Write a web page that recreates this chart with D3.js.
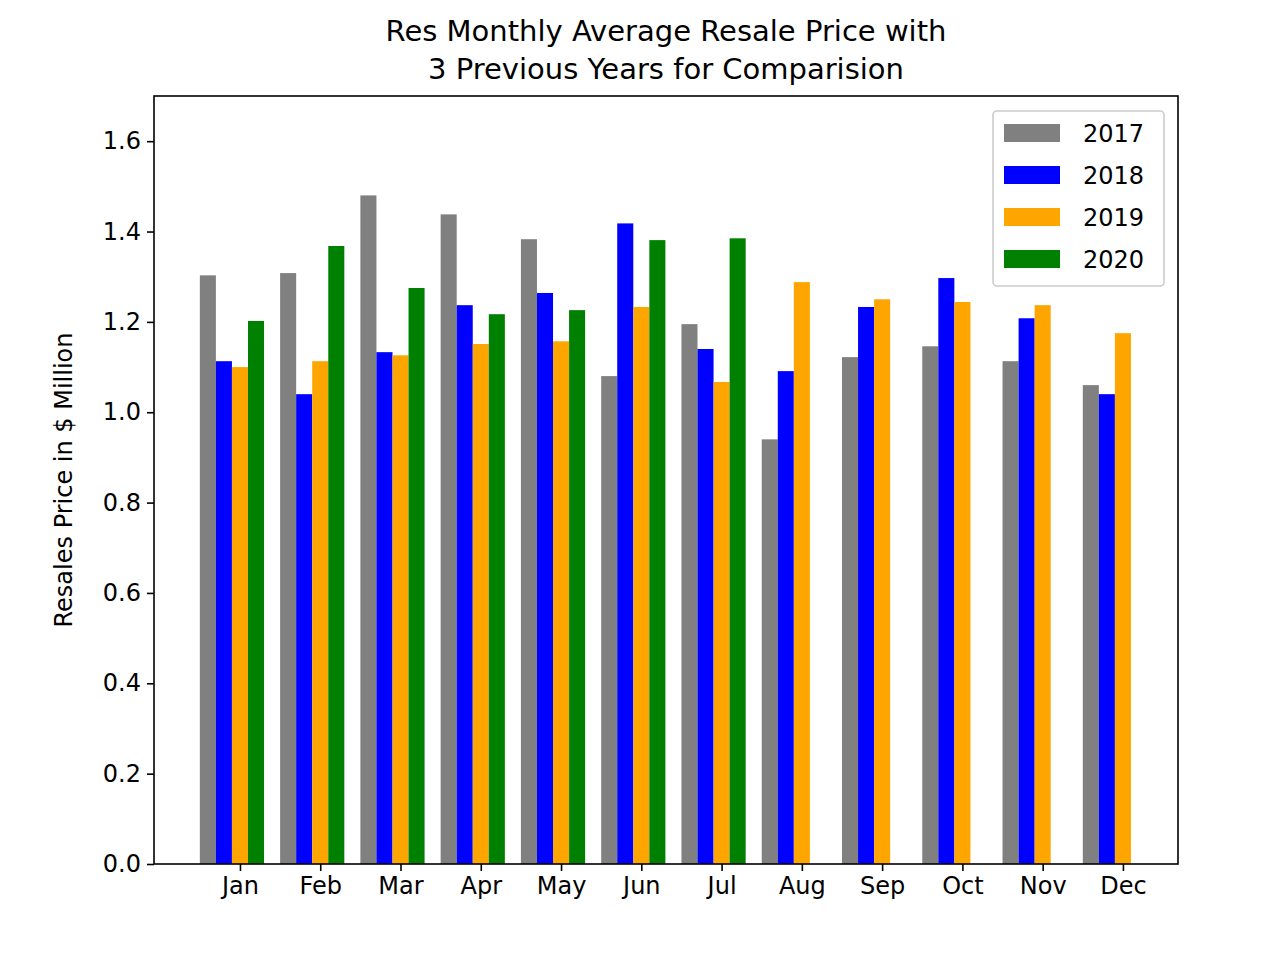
<!DOCTYPE html>
<html><head><meta charset="utf-8">
<script src="https://cdn.jsdelivr.net/npm/d3@7"></script>
<style>body{margin:0;background:#fff}text{font-family:"DejaVu Sans",sans-serif}</style>
</head><body><svg id="c" width="1280" height="960"></svg>
<script>
const months=["Jan","Feb","Mar","Apr","May","Jun","Jul","Aug","Sep","Oct","Nov","Dec"];
const years=["2017","2018","2019","2020"];
const colors=["grey","blue","orange","green"];
const v2017=[1.303,1.308,1.480,1.438,1.383,1.080,1.195,0.940,1.122,1.146,1.113,1.060];
const v2018=[1.113,1.040,1.133,1.237,1.264,1.418,1.140,1.091,1.233,1.297,1.208,1.040];
const v2019=[1.100,1.113,1.126,1.151,1.157,1.233,1.067,1.288,1.250,1.244,1.237,1.175];
const v2020=[1.202,1.368,1.275,1.217,1.226,1.381,1.385,null,null,null,null,null];
const yTicks=[0,0.2,0.4,0.6,0.8,1.0,1.2,1.4,1.6];
const series=[v2017,v2018,v2019,v2020];
const svg=d3.select("#c");
const L=154,R=1178,T=96,B=864;
const x=d3.scaleLinear().domain([-1.071,11.686]).range([L,R]);
const y=d3.scaleLinear().domain([0,1.7]).range([B,T]);
const bw=0.2;
series.forEach((s,k)=>{
  svg.append("g").selectAll("rect").data(s.map((v,i)=>({v,i})).filter(d=>d.v!=null)).join("rect")
   .attr("x",d=>x(d.i+(k-2.5)*bw)).attr("width",x(bw)-x(0))
   .attr("y",d=>y(d.v)).attr("height",d=>y(0)-y(d.v)).attr("fill",colors[k]);
});
const fs=24;
const gx=svg.append("g").attr("transform",`translate(0,${B})`)
 .call(d3.axisBottom(x).tickValues(d3.range(12)).tickFormat(i=>months[i]).tickSize(7).tickPadding(6));
const gy=svg.append("g").attr("transform",`translate(${L},0)`)
 .call(d3.axisLeft(y).tickValues(yTicks).tickFormat(d3.format(".1f")).tickSize(7).tickPadding(6));
[gx,gy].forEach(g=>{g.select(".domain").remove();g.selectAll("text").attr("font-size",fs).attr("font-family","DejaVu Sans").attr("fill","#000");g.selectAll("line").attr("stroke","#000").attr("stroke-width",1.6);});
svg.append("rect").attr("x",L).attr("y",T).attr("width",R-L).attr("height",B-T).attr("fill","none").attr("stroke","#000").attr("stroke-width",1.6);
svg.append("text").attr("transform",`translate(72,${(T+B)/2}) rotate(-90)`).attr("text-anchor","middle").attr("font-size",fs).text("Resales Price in $ Million");
svg.append("text").attr("x",(L+R)/2).attr("y",41).attr("text-anchor","middle").attr("font-size",29).text("Res Monthly Average Resale Price with");
svg.append("text").attr("x",(L+R)/2).attr("y",79).attr("text-anchor","middle").attr("font-size",29).text("3 Previous Years for Comparision");
const lg=svg.append("g");
lg.append("rect").attr("x",993).attr("y",111).attr("width",171).attr("height",175).attr("rx",4).attr("fill","#fff").attr("stroke","#ccc").attr("stroke-width",1.6);
years.forEach((yr,k)=>{
  const cy=133+k*42;
  lg.append("rect").attr("x",1004).attr("y",cy-9).attr("width",56).attr("height",18).attr("fill",colors[k]);
  lg.append("text").attr("x",1083).attr("y",cy+9).attr("font-size",fs).text(yr);
});
</script></body></html>
